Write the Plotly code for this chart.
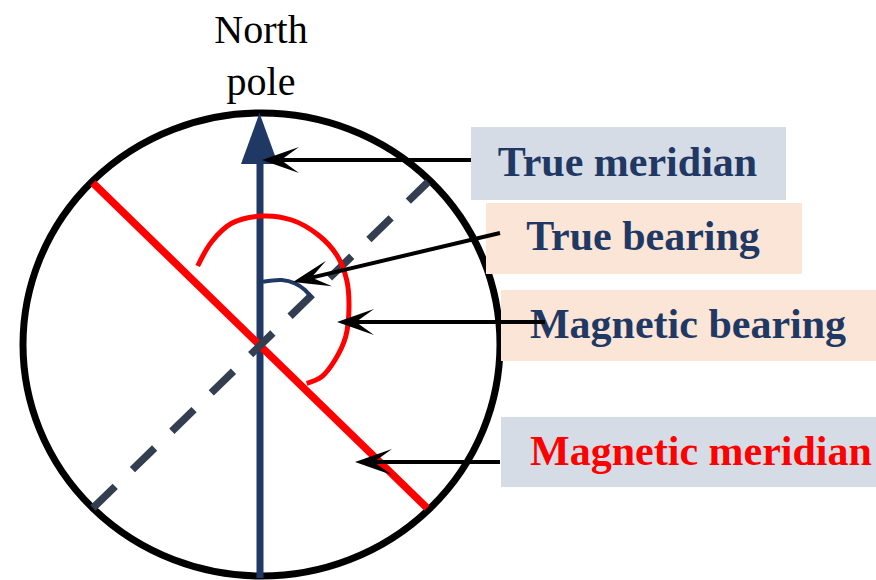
import numpy as np
import plotly.graph_objects as go

# ---- labels ----
pointer_labels = ["True meridian", "True bearing", "Magnetic bearing", "Magnetic meridian"]
pole_label = "North<br>pole"

# ---- geometry (diagram coordinates, y downward) ----
circle_box = [23, 113, 500, 576]          # x0, y0, x1, y1

north_x = [260, 260]
north_y = [578, 160]
north_head_x = [241, 259.5, 278]
north_head_y = [164, 113, 164]

mag_meridian_x = [93, 427]
mag_meridian_y = [183, 508]

true_dir_x = [93, 428]     # dashed bearing line
true_dir_y = [508, 182]

mag_bearing_arc_x = [197.7, 211.7, 231.7, 261.7, 291.7, 318.3, 336.7, 346.7, 349, 345.7, 335, 321.7, 306.7]
mag_bearing_arc_y = [266, 241.7, 223.3, 216, 220, 235, 255, 280, 306.7, 336.7, 360, 376.7, 383.3]

true_bearing_arc_x = [263, 281.7, 295, 305, 311]
true_bearing_arc_y = [281.7, 280, 283.3, 290, 297.3]

pointer_tail_x = [471, 500, 545, 500]
pointer_tail_y = [160, 233, 322, 462]
pointer_tip_x = [262, 293, 337, 355]
pointer_tip_y = [160, 282, 322, 462]

box_x0 = [471, 486, 501, 501]
box_x1 = [786, 802, 880, 880]
box_y0 = [127, 203, 290, 417]
box_y1 = [200, 274, 361, 487]
box_colors = ["#D6DCE5", "#FBE5D6", "#FBE5D6", "#D6DCE5"]

label_x = [627.5, 643, 688, 701]
label_y = [165.5, 239, 327.5, 454]
label_colors = ["#1F3864", "#1F3864", "#1F3864", "#FF0000"]

pole_x = [261]
pole_y = [59]

NAVY = "#1F3864"
DASH = "#333F50"
SERIF = "Liberation Serif, Times New Roman, serif"

fig = go.Figure()

shapes = [dict(type="circle", xref="x", yref="y",
               x0=circle_box[0], y0=circle_box[1], x1=circle_box[2], y1=circle_box[3],
               line=dict(color="black", width=7), layer="below")]
for i in range(len(box_x0)):
    shapes.append(dict(type="rect", xref="x", yref="y",
                       x0=box_x0[i], x1=box_x1[i], y0=box_y0[i], y1=box_y1[i],
                       fillcolor=box_colors[i], line=dict(width=0), layer="below"))

# north meridian arrow
fig.add_trace(go.Scatter(x=north_x, y=north_y, mode="lines",
                         line=dict(color=NAVY, width=7), hoverinfo="skip"))
fig.add_trace(go.Scatter(x=north_head_x, y=north_head_y, mode="lines", fill="toself",
                         fillcolor=NAVY, line=dict(color=NAVY, width=0), hoverinfo="skip"))
# magnetic meridian
fig.add_trace(go.Scatter(x=mag_meridian_x, y=mag_meridian_y, mode="lines",
                         line=dict(color="#FF0000", width=7.5), hoverinfo="skip"))
# dashed direction
fig.add_trace(go.Scatter(x=true_dir_x, y=true_dir_y, mode="lines",
                         line=dict(color=DASH, width=7.5, dash="31px,24px"), hoverinfo="skip"))
# arcs
fig.add_trace(go.Scatter(x=mag_bearing_arc_x, y=mag_bearing_arc_y, mode="lines",
                         line=dict(color="#FF0000", width=5, shape="spline"), hoverinfo="skip"))
fig.add_trace(go.Scatter(x=true_bearing_arc_x, y=true_bearing_arc_y, mode="lines",
                         line=dict(color=NAVY, width=4, shape="spline"), hoverinfo="skip"))

# labels (text drawn before pointers so pointer lines sit on top)
for i, lab in enumerate(pointer_labels):
    fig.add_trace(go.Scatter(x=[label_x[i]], y=[label_y[i]], mode="text", text=[lab],
                             textposition="middle center",
                             textfont=dict(family=SERIF, size=42, color=label_colors[i], weight="bold"),
                             hoverinfo="skip"))

# pointer arrows
L, W, N = 37, 13, 19
for i in range(len(pointer_tail_x)):
    tx, ty = pointer_tip_x[i], pointer_tip_y[i]
    bx, by = pointer_tail_x[i], pointer_tail_y[i]
    d = np.array([bx - tx, by - ty], dtype=float)
    u = d / np.linalg.norm(d)
    n = np.array([-u[1], u[0]])
    tip = np.array([tx, ty], dtype=float)
    notch = tip + N * u
    w1 = tip + L * u + W * n
    w2 = tip + L * u - W * n
    fig.add_trace(go.Scatter(x=[bx, notch[0]], y=[by, notch[1]], mode="lines",
                             line=dict(color="black", width=4), hoverinfo="skip"))
    fig.add_trace(go.Scatter(x=[tip[0], w1[0], notch[0], w2[0], tip[0]],
                             y=[tip[1], w1[1], notch[1], w2[1], tip[1]],
                             mode="lines", fill="toself", fillcolor="black",
                             line=dict(color="black", width=0), hoverinfo="skip"))

fig.add_trace(go.Scatter(x=pole_x, y=pole_y, mode="text", text=[pole_label],
                         textposition="middle center",
                         textfont=dict(family=SERIF, size=40, color="black"),
                         hoverinfo="skip"))

fig.update_layout(width=876, height=580, margin=dict(l=0, r=0, t=0, b=0),
                  paper_bgcolor="white", plot_bgcolor="white", showlegend=False,
                  hovermode=False, shapes=shapes,
                  xaxis=dict(range=[0, 876], visible=False, fixedrange=True),
                  yaxis=dict(range=[580, 0], visible=False, fixedrange=True))

fig.write_html("out.html", config={"displayModeBar": False},
               post_script="document.body.style.margin='0';document.body.style.overflow='hidden';")
